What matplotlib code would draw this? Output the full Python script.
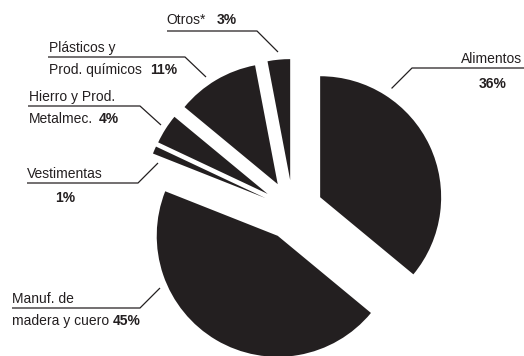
import matplotlib.pyplot as plt
from matplotlib import font_manager

# export shares by sector, in %
sectors = ["Alimentos", "Manuf. de madera y cuero", "Vestimentas",
           "Hierro y Prod. Metalmec.", "Plásticos y Prod. químicos", "Otros*"]
shares = [36, 45, 1, 4, 11, 3]

INK = "#231f20"
W, H = 524, 356


def py(y):
    # page coordinates are measured from the top
    return H - y


# narrow face if there is one, plain Liberation Sans otherwise
installed = {f.name for f in font_manager.fontManager.ttflist}
if "Liberation Sans Narrow" in installed:
    font = dict(family="Liberation Sans Narrow", size=11, color=INK)
else:
    font = dict(family="Liberation Sans", size=10, color=INK)
bold = dict(font, weight="bold")

fig = plt.figure(figsize=(W / 100, H / 100), dpi=100)
ax = fig.add_axes([0, 0, 1, 1])

ax.pie(shares, startangle=90, counterclock=False,
       explode=[30] * len(shares), radius=121, center=(293, py(210)),
       colors=[INK] * len(shares),
       wedgeprops=dict(linewidth=0))

ax.set_xlim(0, W)
ax.set_ylim(0, H)
ax.set_aspect("equal")
ax.axis("off")

# (first line, second line, percent text, text x, first baseline,
#  percent x, percent baseline, underline [x0, x1, y], leader end)
labels = [
    ("Otros*", None, f"{shares[5]}%", 166, 24, 217, 24, (167, 257, 31), (278, 52)),
    ("Plásticos y", "Prod. químicos", f"{shares[4]}%", 49, 52, 150, 74, (48, 185, 57), (206, 77)),
    ("Hierro y Prod.", "Metalmec.", f"{shares[3]}%", 29, 101, 99, 123, (28, 140, 106), (161, 125)),
    ("Vestimentas", None, f"{shares[2]}%", 27, 178, 55, 202, (27, 138, 183), (158, 163)),
    ("Manuf. de", "madera y cuero", f"{shares[1]}%", 12, 303, 113, 325, (12, 140, 308), (160, 288)),
]

for line1, line2, pct, tx, base, px, pbase, (x0, x1, uy), (ex, ey) in labels:
    ax.text(tx, py(base), line1, ha="left", va="baseline", **font)
    if line2:
        ax.text(tx, py(base + 22), line2, ha="left", va="baseline", **font)
    ax.text(px, py(pbase), pct, ha="left", va="baseline", **bold)
    ax.plot([x0, x1, ex], [py(uy), py(uy), py(ey)], color=INK, lw=0.9,
            solid_capstyle="butt")

# Alimentos label sits on the right, text aligned to the edge
ax.text(522, py(63), sectors[0], ha="right", va="baseline", **font)
ax.text(479, py(88), f"{shares[0]}%", ha="left", va="baseline", **bold)
ax.plot([392, 412, 524], [py(88), py(68), py(68)], color=INK, lw=0.9)

fig.savefig("out.png", dpi=100)
